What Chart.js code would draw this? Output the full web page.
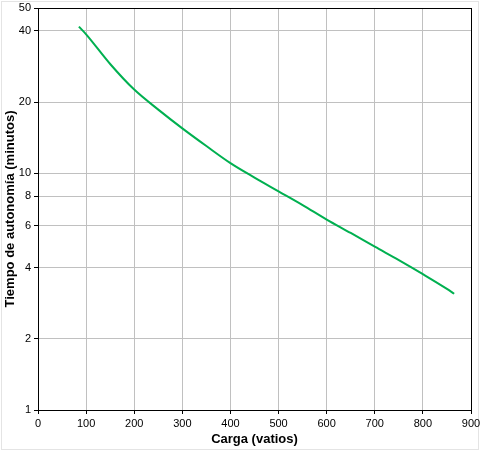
<html>
  <head>
    <title>Autonomia</title>
    <style>
      body { margin: 0; background: #fff; }
    </style>
  </head>
  <body>
    <canvas id="myChart" width="480" height="451"></canvas>
  </body>
</html>

<script src="https://cdn.jsdelivr.net/npm/chart.js"></script>
<script>
  // carga en vatios y tiempo de autonomia en minutos
  var cargaVatios = [85, 100, 150, 200, 250, 300, 350, 400, 450, 500, 550, 600, 650, 700, 750, 800, 850, 865];
  var tiempoMinutos = [41.7, 38.7, 29.0, 22.6, 18.6, 15.5, 13.05, 11.05, 9.6, 8.4, 7.35, 6.38, 5.6, 4.9, 4.3, 3.75, 3.25, 3.1];
  var yTicks = [1, 2, 4, 6, 8, 10, 20, 40, 50];
  var xTicks = [0, 100, 200, 300, 400, 500, 600, 700, 800, 900];

  var puntos = [];
  for (var i = 0; i < cargaVatios.length; i++) {
    puntos.push({ x: cargaVatios[i], y: tiempoMinutos[i] });
  }

  const frame = {
    id: 'frame',
    beforeDraw(chart) {
      const c = chart.ctx;
      c.save();
      c.fillStyle = '#fff';
      c.fillRect(0, 0, chart.width, chart.height);
      c.strokeStyle = '#e4e4e4';
      c.lineWidth = 1;
      c.strokeRect(1.5, 1.5, chart.width - 3, chart.height - 3);
      c.restore();
    },
    afterDatasetsDraw(chart) {
      const a = chart.chartArea;
      const c = chart.ctx;
      c.save();
      c.strokeStyle = '#000';
      c.lineWidth = 1;
      c.strokeRect(Math.round(a.left) + 0.5, Math.round(a.top) + 0.5,
        Math.round(a.right - a.left), Math.round(a.bottom - a.top));
      c.restore();
    }
  };

  Chart.defaults.font.family = '"Liberation Sans", Arial, sans-serif';
  Chart.defaults.color = '#000';

  const ctx = document.getElementById('myChart').getContext('2d');
  const myChart = new Chart(ctx, {
    type: 'line',
    data: {
      datasets: [{
        data: puntos,
        borderColor: '#00b050',
        borderWidth: 2,
        pointRadius: 0,
        fill: false,
        cubicInterpolationMode: 'monotone'
      }]
    },
    plugins: [frame],
    options: {
      responsive: false,
      animation: false,
      layout: { padding: { top: 8, right: 9, bottom: 4, left: 0 } },
      plugins: {
        legend: { display: false },
        tooltip: { enabled: false }
      },
      scales: {
        x: {
          type: 'linear',
          min: 0,
          max: 900,
          afterBuildTicks: function (s) { s.ticks = xTicks.map(v => ({ value: v })); },
          afterFit: function (s) {
            s.height = 37;
            s.paddingLeft = 0;
            s.paddingRight = 0;
          },
          grid: { color: '#c0c0c0', tickColor: '#000', tickLength: 4 },
          border: { color: '#000' },
          ticks: { font: { size: 11 }, padding: 3, maxRotation: 0 },
          title: {
            display: true,
            text: 'Carga (vatios)',
            font: { size: 13, weight: 'bold' },
            padding: { top: 0, bottom: 0 }
          }
        },
        y: {
          type: 'logarithmic',
          min: 1,
          max: 50,
          afterBuildTicks: function (s) { s.ticks = yTicks.map(v => ({ value: v })); },
          afterFit: function (s) {
            s.width = 38;
            s.paddingTop = 0;
            s.paddingBottom = 0;
          },
          grid: { color: '#c0c0c0', tickColor: '#000', tickLength: 4 },
          border: { color: '#000' },
          ticks: {
            font: { size: 11 },
            padding: 3,
            callback: function (v) { return String(v); }
          },
          title: {
            display: true,
            text: 'Tiempo de autonomía (minutos)',
            font: { size: 13, weight: 'bold' },
            padding: { top: 3, bottom: 0 }
          }
        }
      }
    }
  });
</script>
